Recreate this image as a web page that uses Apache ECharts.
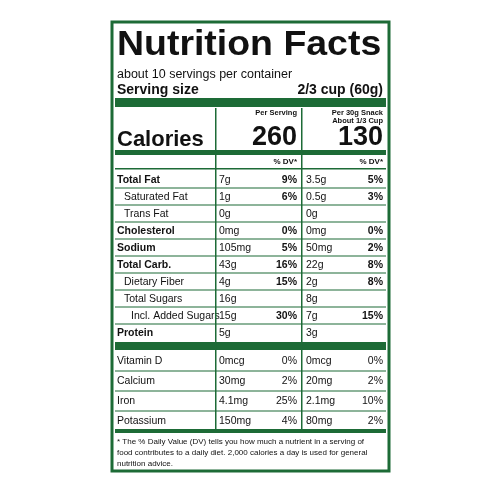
<!DOCTYPE html>
<html><head><meta charset="utf-8">
<script src="https://cdn.jsdelivr.net/npm/echarts@6/dist/echarts.min.js"></script>
<style>html,body{margin:0;background:#fff}#c{width:500px;height:500px}</style>
</head><body><div id="c"></div>
<script>
var title = "Nutrition Facts";
var servingsText = "about 10 servings per container";
var servingSize = ["Serving size", "2/3 cup (60g)"];
var columnHeads = [["Per Serving"], ["Per 30g Snack", "About 1/3 Cup"]];
var calories = ["260", "130"];
var labels = ["Total Fat","Saturated Fat","Trans Fat","Cholesterol","Sodium","Total Carb.","Dietary Fiber","Total Sugars","Incl. Added Sugars","Protein"];
var indent = [0,1,1,0,0,0,1,1,2,0];
var boldLabel = [1,0,0,1,1,1,0,0,0,1];
var amt1 = ["7g","1g","0g","0mg","105mg","43g","4g","16g","15g","5g"];
var dv1 = ["9%","6%","","0%","5%","16%","15%","","30%",""];
var amt2 = ["3.5g","0.5g","0g","0mg","50mg","22g","2g","8g","7g","3g"];
var dv2 = ["5%","3%","","0%","2%","8%","8%","","15%",""];
var vitLabels = ["Vitamin D","Calcium","Iron","Potassium"];
var vitAmt1 = ["0mcg","30mg","4.1mg","150mg"];
var vitDv1 = ["0%","2%","25%","4%"];
var vitAmt2 = ["0mcg","20mg","2.1mg","80mg"];
var vitDv2 = ["0%","2%","10%","2%"];
var footnote = ["* The % Daily Value (DV) tells you how much a nutrient in a serving of","food contributes to a daily diet. 2,000 calories a day is used for general","nutrition advice."];

var G = "#1d6b36", F = "Liberation Sans, Arial, sans-serif";
var L = 115, R = 386, C1 = 215, C2 = 301;
var els = [];
function t(x, y, s, size, bold, align, sx) {
  els.push({type:"text", x:x, y:y, scaleX:sx||1, style:{text:s, fill:"#111", font:(bold?"bold ":"")+size+"px "+F, textAlign:align||"left", textVerticalAlign:"middle"}});
}
function rect(x, y, w, h) { els.push({type:"rect", shape:{x:x,y:y,width:w,height:h}, style:{fill:G}}); }
els.push({type:"rect", shape:{x:112,y:22,width:277,height:449}, style:{fill:"none", stroke:G, lineWidth:3}});
t(117, 45, title, 35, true, "left", 1.07);
t(117, 75, servingsText, 12.5, false);
t(117, 90, servingSize[0], 14, true);
t(R-3, 90, servingSize[1], 14, true, "right");
rect(L, 98, R-L, 9);
t(C2-4, 113, columnHeads[0][0], 7.5, true, "right");
t(R-3, 113, columnHeads[1][0], 7.5, true, "right");
t(R-3, 121, columnHeads[1][1], 7.5, true, "right");
t(117, 140, "Calories", 22, true);
t(C2-4, 138, calories[0], 27, true, "right");
t(R-3, 138, calories[1], 27, true, "right");
rect(L, 150, R-L, 5);
t(C2-4, 162, "% DV*", 8, true, "right");
t(R-3, 162, "% DV*", 8, true, "right");
rect(L, 168, R-L, 1.5);
var y0 = 180, dy = 17;
labels.forEach(function(lb, i) {
  var y = y0 + i*dy;
  t(117 + indent[i]*7, y, lb, 10.5, !!boldLabel[i]);
  t(C1+4, y, amt1[i], 10.5, false);
  t(C2-4, y, dv1[i], 10.5, true, "right");
  t(C2+5, y, amt2[i], 10.5, false);
  t(R-3, y, dv2[i], 10.5, true, "right");
  if (i < labels.length-1) rect(L, y+7.5, R-L, 1);
});
var yb = y0 + (labels.length-1)*dy + 9;
rect(L, yb, R-L, 8);
var vy0 = 361, vdy = 20;
vitLabels.forEach(function(lb, i) {
  var y = vy0 + i*vdy;
  t(117, y, lb, 10.5, false);
  t(C1+4, y, vitAmt1[i], 10.5, false);
  t(C2-4, y, vitDv1[i], 10.5, false, "right");
  t(C2+5, y, vitAmt2[i], 10.5, false);
  t(R-3, y, vitDv2[i], 10.5, false, "right");
  if (i < vitLabels.length-1) rect(L, y+9.5, R-L, 1);
});
var ye = vy0 + (vitLabels.length-1)*vdy + 8;
rect(L, ye, R-L, 4);
rect(C1, 108, 1.5, ye-108);
rect(C2, 108, 1.5, ye-108);
footnote.forEach(function(s, i){ t(117, 442 + i*11, s, 8, false); });
var chart = echarts.init(document.getElementById("c"));
chart.setOption({backgroundColor:"#fff", graphic:{elements:els}});
</script></body></html>
